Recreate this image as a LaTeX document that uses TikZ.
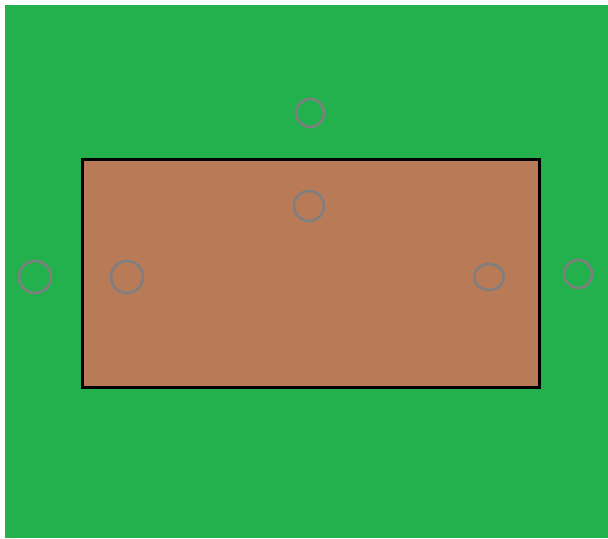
\documentclass[tikz,border=0pt]{standalone}
\usepackage{tikz}

\definecolor{grass}{RGB}{34,177,76}
\definecolor{soil}{RGB}{185,122,87}
\definecolor{holegray}{RGB}{127,127,127}

\begin{document}
\begin{tikzpicture}[x=0.02cm, y=-0.02cm]
  \useasboundingbox (0,0) rectangle (608,538);
  % Background
  \fill[white] (0,0) rectangle (608,538);
  \fill[grass] (5,5) rectangle (608,538);
  % Bed
  \filldraw[fill=soil, draw=black, line width=3*0.02cm] (82,159) rectangle (539,387);
  % Holes
  \foreach \x/\y/\r in {310/113/14, 309/206/15, 35/277/16, 127/277/16, 578/274/14} {
    \draw[holegray, line width=2.6*0.02cm] (\x,\y) circle (\r*0.02cm);
  }
  \draw[holegray, line width=2.6*0.02cm] (489,277) ellipse (15*0.02cm and 13*0.02cm);
\end{tikzpicture}
\end{document}
